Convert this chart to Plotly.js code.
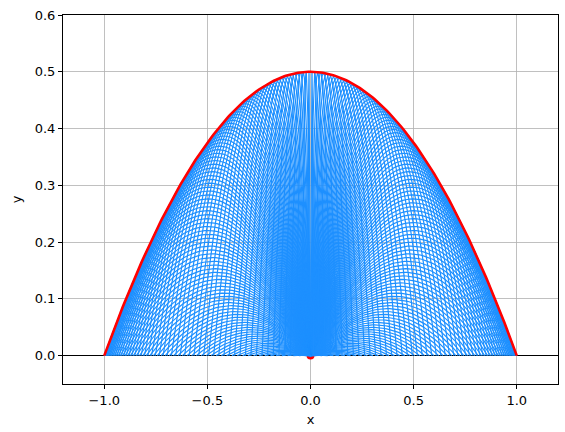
<!DOCTYPE html>
<html>
<head>
<meta charset="utf-8">
<script src="https://cdn.plot.ly/plotly-3.0.1.min.js"></script>
<style>html,body{margin:0;padding:0;background:#fff;}#plot{width:565px;height:432px;}</style>
</head>
<body>
<div id="plot"></div>
<script>
// Projectile parameters (launch speed and gravity chosen so that max range = 1)
const launchSpeed = 1.0;
const gravity = 1.0;
const angleStepDeg = 0.8;           // spacing between launch angles
const angleStartDeg = 0;
const angleEndDeg = 180;
const samplesPerPath = 60;
const launchPoint = [0.0, 0.0];
const xTicks = [-1.0, -0.5, 0.0, 0.5, 1.0];
const yTicks = [0.0, 0.1, 0.2, 0.3, 0.4, 0.5, 0.6];

// build trajectories
const trajX = [], trajY = [];
for (let a = angleStartDeg + angleStepDeg; a < angleEndDeg - 1e-9; a += angleStepDeg) {
  const th = a * Math.PI / 180;
  const tEnd = 2 * launchSpeed * Math.sin(th) / gravity;
  for (let k = 0; k <= samplesPerPath; k++) {
    const t = tEnd * k / samplesPerPath;
    trajX.push(launchSpeed * Math.cos(th) * t);
    trajY.push(Math.max(0, launchSpeed * Math.sin(th) * t - 0.5 * gravity * t * t));
  }
  trajX.push(null); trajY.push(null);
}
// envelope (safety parabola)
const vmax = launchSpeed * launchSpeed / gravity;
const envX = [], envY = [];
for (let k = 0; k <= 200; k++) {
  const x = -vmax + 2 * vmax * k / 200;
  envX.push(x);
  envY.push(vmax / 2 - gravity * x * x / (2 * launchSpeed * launchSpeed));
}

const font = {family: 'DejaVu Sans, sans-serif', size: 13, color: '#000'};
const data = [
  {x: [launchPoint[0]], y: [launchPoint[1]], mode: 'markers', type: 'scatter',
   marker: {color: 'red', size: 8}, cliponaxis: true, hoverinfo: 'skip'},
  {x: trajX, y: trajY, mode: 'lines', type: 'scatter', connectgaps: false,
   line: {color: '#1E90FF', width: 1.2}, hoverinfo: 'skip'},
  {x: envX, y: envY, mode: 'lines', type: 'scatter',
   line: {color: 'red', width: 2.6}, hoverinfo: 'skip'}
];
const axisCommon = {
  showline: true, mirror: true, linecolor: '#000', linewidth: 1,
  ticks: 'outside', ticklen: 4, tickwidth: 1, tickcolor: '#000',
  showgrid: true, gridcolor: '#b0b0b0', gridwidth: 0.8,
  tickfont: font, tickformat: '.1f'
};
const layout = {
  width: 565, height: 432,
  margin: {l: 63, r: 7, t: 15, b: 48},
  paper_bgcolor: '#fff', plot_bgcolor: '#fff',
  showlegend: false,
  xaxis: Object.assign({}, axisCommon, {range: [-1.2, 1.2], tickvals: xTicks,
    zeroline: false, title: {text: 'x', font: font, standoff: 8}}),
  yaxis: Object.assign({}, axisCommon, {range: [-0.05, 0.6], tickvals: yTicks,
    zeroline: true, zerolinecolor: '#000', zerolinewidth: 1.2,
    title: {text: 'y', font: font, standoff: 10}}),
  font: font
};
Plotly.newPlot('plot', data, layout, {staticPlot: true, displayModeBar: false});
</script>
</body>
</html>
